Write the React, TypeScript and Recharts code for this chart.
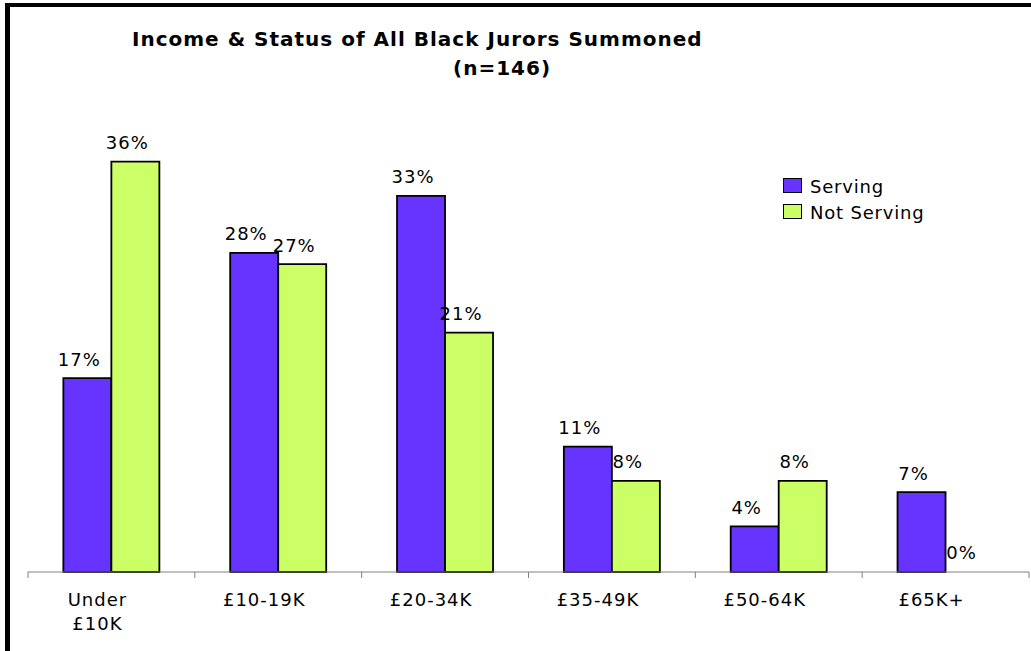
import React from 'react';
import { BarChart, Bar, XAxis, YAxis, Legend, LabelList, Cell } from 'recharts';

const categories = ['Under\n£10K', '£10-19K', '£20-34K', '£35-49K', '£50-64K', '£65K+'];
const serving = [17, 28, 33, 11, 4, 7];
const notServing = [36, 27, 21, 8, 8, 0];
const seriesNames = ['Serving', 'Not Serving'];
const titleLines = ['Income & Status of All Black Jurors Summoned', '(n=146)'];

const data = categories.map((c, i) => ({
  category: c,
  serving: serving[i],
  notServing: notServing[i],
}));

const W = 1031;
const H = 651;
const MARGIN = { top: 116, right: 2, left: 28, bottom: 19 };
const FONT = '"DejaVu Sans", Verdana, sans-serif';
const AXIS_COLOR = '#808080';

const CategoryTick = (props: any) => {
  const { x, y, payload, index, visibleTicksCount } = props;
  const step = (W - MARGIN.left - MARGIN.right) / categories.length;
  const half = step / 2;
  const count = visibleTicksCount ?? categories.length;
  const lines = String(payload.value).split('\n');
  const lx = x - 14;
  return (
    <g>
      <line x1={x - half} x2={x - half} y1={y} y2={y + 6} stroke={AXIS_COLOR} strokeWidth={1} />
      {index === count - 1 && (
        <line x1={x + half} x2={x + half} y1={y} y2={y + 6} stroke={AXIS_COLOR} strokeWidth={1} />
      )}
      <text x={lx} y={y + 34} textAnchor="middle" fontSize={18} fontFamily={FONT} fill="#000" letterSpacing={1}>
        {lines.map((l, i) => (
          <tspan key={i} x={lx} dy={i === 0 ? 0 : 24}>
            {l}
          </tspan>
        ))}
      </text>
    </g>
  );
};

const BarValueLabel = (props: any) => {
  const vb = props.viewBox && props.viewBox.width !== undefined ? props.viewBox : props;
  const x = Number(vb.x);
  const y = Number(vb.y);
  const w = Number(vb.width);
  const h = Number(vb.height) || 0;
  const bottom = y + Math.max(h, 0);
  const top = h < 0 ? y + h : y;
  const labelY = Math.min(top, bottom);
  return (
    <text
      x={x + w / 2 - 8}
      y={labelY - 12.5}
      textAnchor="middle"
      fontSize={18}
      fontFamily={FONT}
      fill="#000"
      letterSpacing={1}
    >
      {`${props.value}%`}
    </text>
  );
};

const LegendContent = (props: any) => {
  const payload = [...(props.payload || [])].sort(
    (a: any, b: any) => seriesNames.indexOf(a.value) - seriesNames.indexOf(b.value)
  );
  return (
    <svg width={170} height={56} style={{ display: 'block' }}>
      {payload.map((p: any, i: number) => (
        <g key={i} transform={`translate(0, ${i * 26})`}>
          <rect x={0.5} y={2.5} width={18} height={14} fill={p.color} stroke="#000" strokeWidth={1} />
          <text x={27} y={17} fontSize={18} fontFamily={FONT} fill="#000" letterSpacing={0.8}>
            {p.value}
          </text>
        </g>
      ))}
    </svg>
  );
};

const zeroMin = (v: any) => (Number(v) === 0 ? 0.01 : 0);

export default function App() {
  return (
    <div
      style={{
        position: 'absolute',
        left: 0,
        top: 0,
        width: W,
        height: H,
        background: '#fff',
        overflow: 'hidden',
      }}
    >
      <div
        style={{
          position: 'absolute',
          left: 5,
          top: 3,
          width: W + 50,
          height: H + 50,
          borderLeft: '5px solid #000',
          borderTop: '4px solid #000',
          boxSizing: 'border-box',
        }}
      />
      <div style={{ position: 'absolute', left: 0, top: 0 }}>
        <BarChart
          width={W}
          height={H}
          data={data}
          margin={MARGIN}
          barCategoryGap="21.2%"
          barGap={0}
        >
          <XAxis
            dataKey="category"
            height={60}
            interval={0}
            tickSize={0}
            tickMargin={0}
            tickLine={false}
            axisLine={{ stroke: AXIS_COLOR, strokeWidth: 1 }}
            tick={<CategoryTick />}
          />
          <YAxis hide domain={[0, 40]} />
          <Legend
            layout="vertical"
            align="center"
            verticalAlign="middle"
            wrapperStyle={{ left: 783, top: 176, width: 170, height: 56 }}
            content={<LegendContent />}
          />
          <Bar
            dataKey="serving"
            name={seriesNames[0]}
            fill="#6633FF"
            stroke="#000"
            strokeWidth={1.8}
            minPointSize={zeroMin}
            isAnimationActive={false}
          >
            {serving.map((v, i) => (
              <Cell key={i} stroke={v === 0 ? 'none' : '#000'} />
            ))}
            <LabelList dataKey="serving" content={<BarValueLabel />} />
          </Bar>
          <Bar
            dataKey="notServing"
            name={seriesNames[1]}
            fill="#CCFF66"
            stroke="#000"
            strokeWidth={1.8}
            minPointSize={zeroMin}
            isAnimationActive={false}
          >
            {notServing.map((v, i) => (
              <Cell key={i} stroke={v === 0 ? 'none' : '#000'} />
            ))}
            <LabelList dataKey="notServing" content={<BarValueLabel />} />
          </Bar>
        </BarChart>
      </div>
      <svg
        width={W}
        height={100}
        style={{ position: 'absolute', left: 0, top: 0, pointerEvents: 'none' }}
      >
        <text x={132} y={46} fontSize={20} fontWeight="bold" fontFamily={FONT} fill="#000" letterSpacing={1}>
          {titleLines[0]}
        </text>
        <text x={453} y={75} fontSize={20} fontWeight="bold" fontFamily={FONT} fill="#000" letterSpacing={1}>
          {titleLines[1]}
        </text>
      </svg>
    </div>
  );
}
